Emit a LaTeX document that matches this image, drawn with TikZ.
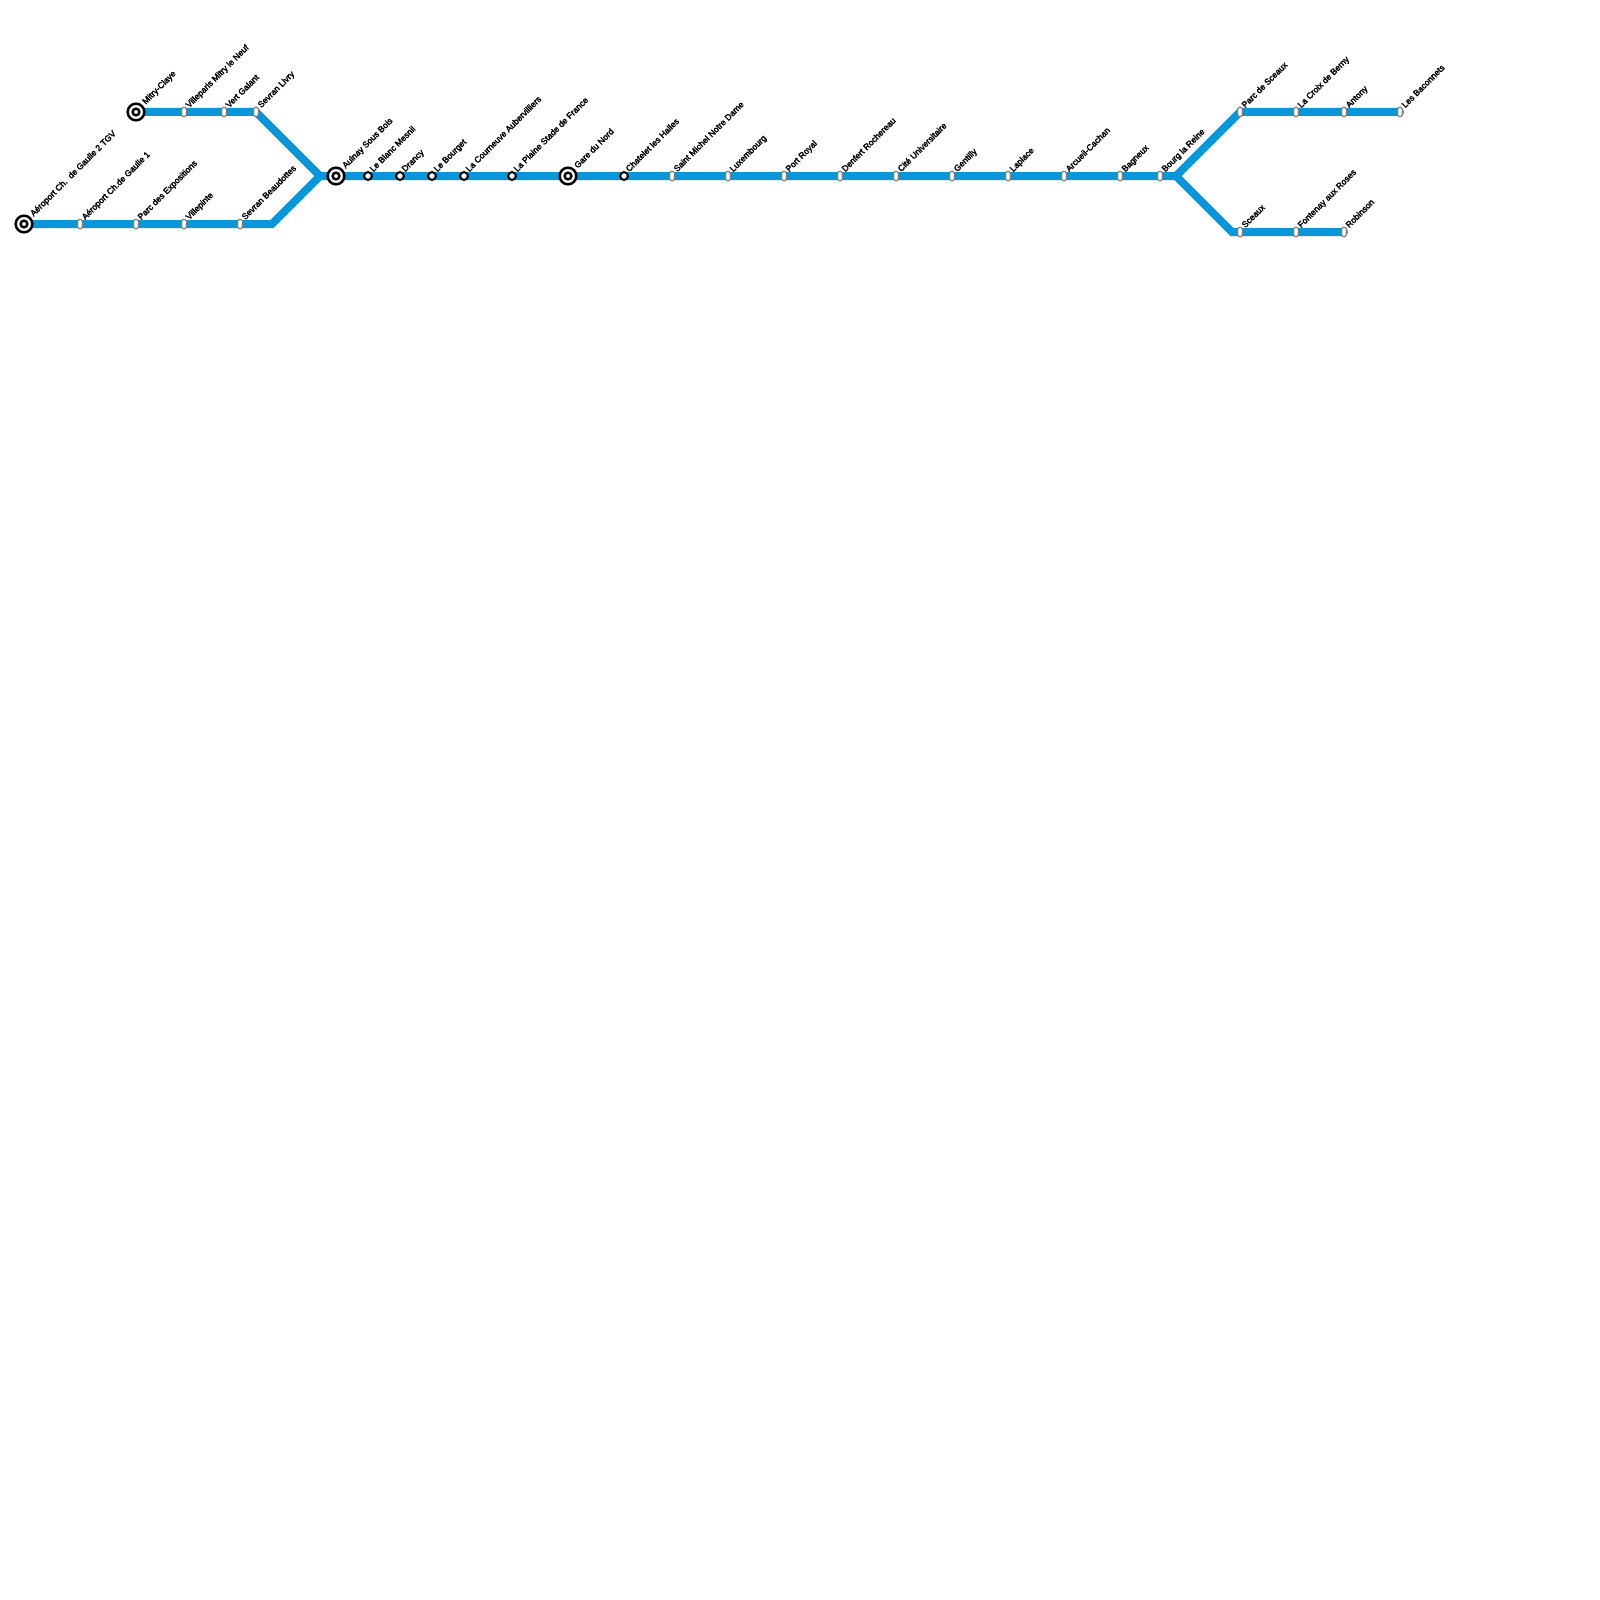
\documentclass[tikz,border=0pt]{standalone}
\usepackage{fontspec}
\setmainfont{Liberation Sans}
\definecolor{linecol}{HTML}{0A96D8}
\definecolor{pillgray}{HTML}{777777}
\tikzset{
  metro/.style={draw=linecol,line width=4pt,line join=miter,line cap=round},
  pill/.style={draw=pillgray,fill=white,line width=0.55pt,rounded corners=0.9pt,minimum width=2.5pt,minimum height=4.7pt,inner sep=0pt},
  ringstop/.style={draw=black,fill=white,line width=1pt,circle,minimum size=3.9pt,inner sep=0pt},
  hub/.style={draw=black,fill=white,line width=1.25pt,circle,minimum size=8.3pt,inner sep=0pt},
  hubdot/.style={draw=black,fill=white,line width=1.2pt,circle,minimum size=3.4pt,inner sep=0pt},
  stlabel/.style={anchor=base west,rotate=45,inner sep=0pt,font=\fontsize{4.27}{4.27}\selectfont,text=black}
}
\newcommand{\labelled}[4]{% id, x, y, text
  \coordinate (#1) at (#2,#3);
  \node[stlabel] (#1-l) at ([shift={(5,-3.5)}]#1) {\special{pdf:code 0.12 w 2 Tr}#4\special{pdf:code 0 Tr}};
}
\newcommand{\hublabelled}[4]{% id, x, y, text
  \coordinate (#1) at (#2,#3);
  \node[stlabel] (#1-l) at ([shift={(9.5,-7)}]#1) {\special{pdf:code 0.12 w 2 Tr}#4\special{pdf:code 0 Tr}};
}
\begin{document}
\begin{tikzpicture}[x=0.5pt,y=-0.5pt]
\useasboundingbox (0,0) rectangle (1600,1600);
\fill[white] (0,0) rectangle (1600,1600);
\hublabelled{a1}{24}{224}{Aéroport Ch.~~de Gaulle 2 TGV}
\labelled{a2}{80}{224}{Aéroport Ch.de Gaulle 1}
\labelled{a3}{136}{224}{Parc des Expositions}
\labelled{a4}{184}{224}{Villepinte}
\labelled{a5}{240}{224}{Sevran Beaudottes}
\coordinate (ac) at (272,224);
\coordinate (jl) at (320,176);
\hublabelled{b1}{136}{112}{Mitry-Claye}
\labelled{b2}{184}{112}{Villeparis Mitry le Neuf}
\labelled{b3}{224}{112}{Vert Galant}
\labelled{b4}{256}{112}{Sevran Livry}
\hublabelled{m1}{336}{176}{Aulnay Sous Bois}
\labelled{m2}{368}{176}{Le Blanc Mesnil}
\labelled{m3}{400}{176}{Drancy}
\labelled{m4}{432}{176}{Le Bourget}
\labelled{m5}{464}{176}{La Courneuve Aubervilliers}
\labelled{m6}{512}{176}{La Plaine Stade de France}
\hublabelled{m7}{568}{176}{Gare du Nord}
\labelled{m8}{624}{176}{Chatelet les Halles}
\labelled{m9}{672}{176}{Saint Michel Notre Dame}
\labelled{m10}{728}{176}{Luxembourg}
\labelled{m11}{784}{176}{Port Royal}
\labelled{m12}{840}{176}{Denfert Rochereau}
\labelled{m13}{896}{176}{Cité Universitaire}
\labelled{m14}{952}{176}{Gentilly}
\labelled{m15}{1008}{176}{Laplace}
\labelled{m16}{1064}{176}{Arcueil-Cachan}
\labelled{m17}{1120}{176}{Bagneux}
\labelled{m18}{1160}{176}{Bourg la Reine}
\coordinate (jr) at (1176,176);
\labelled{c1}{1240}{112}{Parc de Sceaux}
\labelled{c2}{1296}{112}{La Croix de Berny}
\labelled{c3}{1344}{112}{Antony}
\labelled{c4}{1400}{112}{Les Baconnets}
\coordinate (dc) at (1232,232);
\labelled{d1}{1240}{232}{Sceaux}
\labelled{d2}{1296}{232}{Fontenay aux Roses}
\labelled{d3}{1344}{232}{Robinson}
% lines
\draw[metro] (a1) -- (a2) -- (a3) -- (a4) -- (a5) -- (ac) -- (jl) -- (m1);
\draw[metro] (b1) -- (b2) -- (b3) -- (b4) -- (jl);
\draw[metro] (m1) -- (m2) -- (m3) -- (m4) -- (m5) -- (m6) -- (m7) -- (m8) -- (m9) -- (m10) -- (m11) -- (m12) -- (m13) -- (m14) -- (m15) -- (m16) -- (m17) -- (m18) -- (jr) -- (c1) -- (c2) -- (c3) -- (c4);
\draw[metro] (jr) -- (dc) -- (d1) -- (d2) -- (d3);
% markers
\foreach \s in {a2,a3,a4,a5,b2,b3,b4,m9,m10,m11,m12,m13,m14,m15,m16,m17,m18,c1,c2,c3,c4,d1,d2,d3}
  \node[pill] (\s-m) at (\s) {};
\foreach \s in {m2,m3,m4,m5,m6,m8}
  \node[ringstop] (\s-m) at (\s) {};
\foreach \s in {a1,b1,m1,m7}{
  \node[hub] (\s-m) at (\s) {};
  \node[hubdot] (\s-d) at (\s) {};
}
\end{tikzpicture}
\end{document}
